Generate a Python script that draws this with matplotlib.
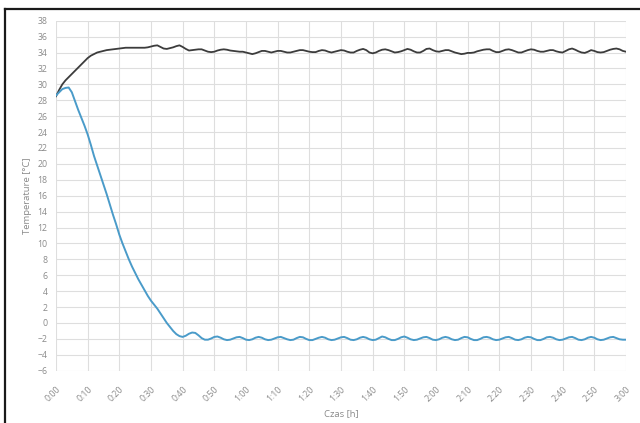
import matplotlib.pyplot as plt
from matplotlib.lines import Line2D

# time in minutes from start
minutes = list(range(0, 181))

# upper (black) series, one reading per minute
temp_black = [
    28.5, 29.3, 30.0, 30.5, 30.9, 31.3, 31.7, 32.1, 32.5, 32.9,
    33.3, 33.6, 33.8, 34.0, 34.1, 34.2, 34.3, 34.35, 34.4, 34.45,
    34.5, 34.55, 34.6, 34.6, 34.6, 34.6, 34.6, 34.6, 34.6, 34.65,
    34.75, 34.85, 34.9, 34.7, 34.5, 34.45, 34.55, 34.65, 34.8, 34.9,
    34.7, 34.45, 34.25, 34.3, 34.35, 34.4, 34.4, 34.25, 34.1, 34.05,
    34.1, 34.25, 34.35, 34.4, 34.35, 34.25, 34.2, 34.15, 34.1, 34.1,
    34.0, 33.9, 33.8, 33.9, 34.05, 34.2, 34.2, 34.1, 34.0, 34.1,
    34.2, 34.2, 34.1, 34.0, 34.0, 34.1, 34.2, 34.3, 34.3, 34.2,
    34.1, 34.05, 34.05, 34.2, 34.3, 34.25, 34.1, 34.0, 34.1, 34.2,
    34.3, 34.25, 34.1, 34.0, 34.0, 34.2, 34.35, 34.45, 34.3, 34.0,
    33.9, 34.0, 34.2, 34.35, 34.4, 34.3, 34.15, 34.0, 34.05, 34.15,
    34.3, 34.45, 34.35, 34.15, 34.0, 34.0, 34.2, 34.45, 34.5, 34.3,
    34.15, 34.1, 34.2, 34.3, 34.3, 34.15, 34.0, 33.9, 33.8, 33.85,
    33.95, 33.95, 34.0, 34.15, 34.25, 34.35, 34.4, 34.4, 34.2, 34.05,
    34.05, 34.2, 34.35, 34.4, 34.3, 34.15, 34.0, 34.0, 34.15, 34.3,
    34.4, 34.35, 34.2, 34.1, 34.1, 34.2, 34.3, 34.3, 34.15, 34.05,
    34.0, 34.2, 34.4, 34.5, 34.35, 34.15, 34.0, 33.95, 34.1, 34.3,
    34.2, 34.05, 34.0, 34.05, 34.2, 34.35, 34.45, 34.5, 34.4, 34.2,
    34.1,
]

# lower (blue) series, one reading per minute
temp_blue = [
    28.6, 29.0, 29.4, 29.55, 29.6, 29.0, 27.9, 26.8, 25.8, 24.8,
    23.7, 22.4, 21.0, 19.8, 18.6, 17.4, 16.2, 14.9, 13.6, 12.4,
    11.1, 10.0, 9.0, 8.0, 7.1, 6.3, 5.5, 4.8, 4.1, 3.4,
    2.8, 2.3, 1.8, 1.2, 0.6, 0.0, -0.5, -1.0, -1.4, -1.65,
    -1.75, -1.6, -1.35, -1.2, -1.25, -1.55, -1.9, -2.1, -2.1, -1.95,
    -1.75, -1.7, -1.85, -2.05, -2.15, -2.1, -1.95, -1.8, -1.75, -1.9,
    -2.1, -2.15, -2.05, -1.85, -1.75, -1.85, -2.05, -2.15, -2.1, -1.95,
    -1.8, -1.75, -1.9, -2.05, -2.15, -2.1, -1.9, -1.75, -1.8, -2.0,
    -2.15, -2.15, -2.0, -1.85, -1.75, -1.85, -2.05, -2.15, -2.1, -1.95,
    -1.8, -1.75, -1.9, -2.1, -2.15, -2.05, -1.85, -1.75, -1.85, -2.05,
    -2.15, -2.1, -1.9, -1.7, -1.8, -2.0, -2.15, -2.15, -2.0, -1.8,
    -1.7, -1.85, -2.05, -2.15, -2.1, -1.95, -1.8, -1.75, -1.9, -2.1,
    -2.15, -2.05, -1.85, -1.75, -1.85, -2.05, -2.15, -2.1, -1.9, -1.75,
    -1.8, -2.0, -2.15, -2.15, -2.0, -1.8, -1.75, -1.85, -2.05, -2.15,
    -2.1, -1.95, -1.8, -1.75, -1.9, -2.1, -2.15, -2.05, -1.85, -1.75,
    -1.8, -2.0, -2.15, -2.15, -2.0, -1.8, -1.75, -1.85, -2.05, -2.15,
    -2.1, -1.95, -1.8, -1.75, -1.9, -2.1, -2.15, -2.05, -1.85, -1.75,
    -1.85, -2.05, -2.15, -2.1, -1.95, -1.8, -1.75, -1.9, -2.05, -2.1,
    -2.1,
]

tick_minutes = list(range(0, 181, 10))
tick_labels = ['0:00', '0:10', '0:20', '0:30', '0:40', '0:50', '1:00', '1:10', '1:20',
               '1:30', '1:40', '1:50', '2:00', '2:10', '2:20', '2:30', '2:40', '2:50', '3:00']
y_ticks = list(range(-6, 39, 2))

plt.rcParams['font.family'] = ['Open Sans', 'DejaVu Sans']

fig = plt.figure(figsize=(6.4, 4.23), dpi=100)
ax = fig.add_axes([0.0875, 0.1236, 0.8905, 0.8275])

ax.plot(minutes, temp_black, color='#3c3c3c', lw=1.3, zorder=3)
ax.plot(minutes, temp_blue, color='#4a9bc9', lw=1.4, zorder=3)

ax.set_xlim(0, 180)
ax.set_ylim(-6, 38)
ax.set_xticks(tick_minutes)
ax.set_xticklabels(tick_labels, rotation=45, ha='right', va='top', rotation_mode='anchor')
ax.set_yticks(y_ticks)
ax.grid(True, color='#dedede', lw=0.8)
ax.set_axisbelow(True)
for s in ax.spines.values():
    s.set_visible(False)
ax.tick_params(length=0, labelsize=6.3, labelcolor='#8a8a8a', pad=6)
ax.tick_params(axis='x', pad=10)

ax.set_xlabel('Czas [h]', fontsize=6.8, color='#8a8a8a', labelpad=4)
ax.set_ylabel('Temperature [°C]', fontsize=6.8, color='#8a8a8a', labelpad=4)

# frame around the picture (only top and left edges fall inside)
fig.add_artist(Line2D([5 / 640, 5 / 640], [0, 1 - 9 / 423], color='#1a1a1a', lw=1.6))
fig.add_artist(Line2D([5 / 640, 1], [1 - 9 / 423, 1 - 9 / 423], color='#1a1a1a', lw=1.6))

fig.savefig('out.png', dpi=100, facecolor='white')
